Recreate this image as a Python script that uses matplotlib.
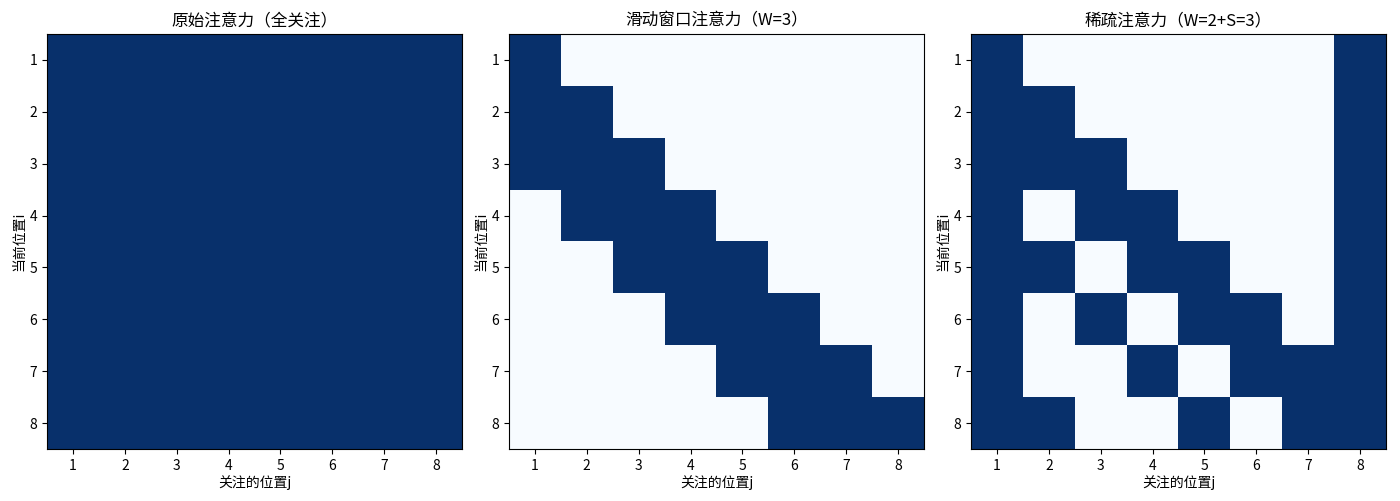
import numpy as np
import matplotlib
matplotlib.use("Agg")
import matplotlib.pyplot as plt

plt.rcParams['font.family'] = ['Noto Sans CJK SC', 'DejaVu Sans']
plt.rcParams['axes.unicode_minus'] = False

titles = ["原始注意力（全关注）", "滑动窗口注意力（W=3）", "稀疏注意力（W=2+S=3）"]
tick_labels = ["1", "2", "3", "4", "5", "6", "7", "8"]

full_mask = [
    [1, 1, 1, 1, 1, 1, 1, 1],
    [1, 1, 1, 1, 1, 1, 1, 1],
    [1, 1, 1, 1, 1, 1, 1, 1],
    [1, 1, 1, 1, 1, 1, 1, 1],
    [1, 1, 1, 1, 1, 1, 1, 1],
    [1, 1, 1, 1, 1, 1, 1, 1],
    [1, 1, 1, 1, 1, 1, 1, 1],
    [1, 1, 1, 1, 1, 1, 1, 1],
]
window_mask = [
    [1, 0, 0, 0, 0, 0, 0, 0],
    [1, 1, 0, 0, 0, 0, 0, 0],
    [1, 1, 1, 0, 0, 0, 0, 0],
    [0, 1, 1, 1, 0, 0, 0, 0],
    [0, 0, 1, 1, 1, 0, 0, 0],
    [0, 0, 0, 1, 1, 1, 0, 0],
    [0, 0, 0, 0, 1, 1, 1, 0],
    [0, 0, 0, 0, 0, 1, 1, 1],
]
sparse_mask = [
    [1, 0, 0, 0, 0, 0, 0, 1],
    [1, 1, 0, 0, 0, 0, 0, 1],
    [1, 1, 1, 0, 0, 0, 0, 1],
    [1, 0, 1, 1, 0, 0, 0, 1],
    [1, 1, 0, 1, 1, 0, 0, 1],
    [1, 0, 1, 0, 1, 1, 0, 1],
    [1, 0, 0, 1, 0, 1, 1, 1],
    [1, 1, 0, 0, 1, 0, 1, 1],
]
masks = [full_mask, window_mask, sparse_mask]

W, H = 1400, 501
fig = plt.figure(figsize=(W / 100, H / 100), dpi=100)
lefts = [47, 509, 971]
aw = 415
top, bottom = 34, 449
for k, (m, t) in enumerate(zip(masks, titles)):
    ax = fig.add_axes([lefts[k] / W, (H - bottom) / H, aw / W, (bottom - top) / H])
    ax.imshow(np.array(m), cmap='Blues', vmin=0, vmax=1, aspect='auto', interpolation='nearest')
    ax.set_xticks(range(8))
    ax.set_xticklabels(tick_labels)
    ax.set_yticks(range(8))
    ax.set_yticklabels(tick_labels)
    ax.set_title(t, fontsize=12, pad=6)
    ax.set_xlabel("关注的位置j", fontsize=10, labelpad=2)
    ax.set_ylabel("当前位置i", fontsize=10, labelpad=2)
    ax.tick_params(labelsize=10)

fig.savefig("out.png", dpi=100)
